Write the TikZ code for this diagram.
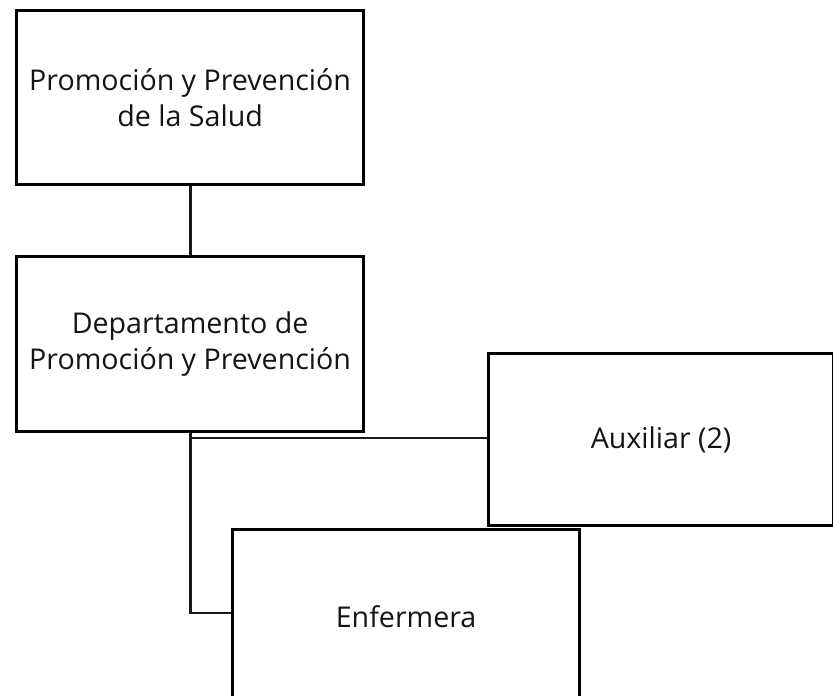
\documentclass[tikz,border=0pt]{standalone}
\usepackage{fontspec}
\setmainfont{Open Sans}
\begin{document}
\begin{tikzpicture}[x=1pt,y=-1pt,
  box/.style={draw=black, line width=3.2pt, fill=white, anchor=north west, inner sep=0pt,
    align=center, text=black!92, font=\fontsize{28.6}{36}\selectfont},
  conn/.style={draw=black!90, line width=2.8pt}]
\useasboundingbox (0,0) rectangle (833,696);
\clip (0,0) rectangle (833,696);
\fill[white] (0,0) rectangle (833,696);
\node[box, minimum width=347pt, minimum height=174pt] (b1) at (15,9) {Promoción y Prevención\\de la Salud};
\node[box, minimum width=347pt, minimum height=175pt] (b2) at (15,255) {Departamento de\\Promoción y Prevención};
\draw[conn] (b1.south) -- (b2.north);
\draw[conn] (b2.south) |- (487,438) coordinate (a3);
\draw[conn] (b2.south) |- (231,613) coordinate (a4);
\node[box, minimum width=345pt, minimum height=172pt] (b3) at (487,352) {Auxiliar (2)};
\node[box, minimum width=347pt, minimum height=174pt] (b4) at (231,528) {Enfermera};
\end{tikzpicture}
\end{document}
